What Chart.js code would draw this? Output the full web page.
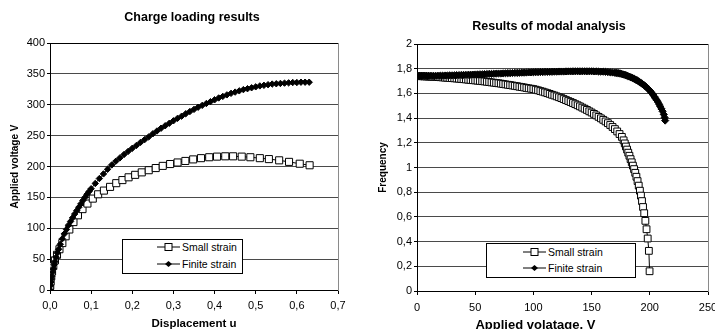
<!DOCTYPE html>
<html>
<head>
<meta charset="utf-8">
<script src="https://cdn.jsdelivr.net/npm/chart.js@4.4.1/dist/chart.umd.min.js"></script>
<style>
  html, body { margin: 0; padding: 0; background: #fff; width: 715px; height: 329px; overflow: hidden; }
  canvas { position: absolute; top: 0; }
  #loading { left: 0; }
  #modal { left: 357px; }
  .legend { position: absolute; border: 1px solid #000; background: #fff; font-family: 'Liberation Sans', Arial, sans-serif; font-size: 10.5px; color: #000; }
  .legend .row { position: absolute; display: flex; align-items: center; height: 14px; white-space: nowrap; }
  .legend svg { display: block; margin-right: 2px; }
</style>
</head>
<body>
<canvas id="loading" width="384" height="345"></canvas>
<canvas id="modal" width="384" height="345"></canvas>
<div class="legend" id="legLoading" style="left:122px;top:239px;width:119px;height:33px"></div>
<div class="legend" id="legModal" style="left:486px;top:243px;width:148px;height:33px"></div>
<script>
// --- Charge loading results (displacement u -> applied voltage V)
const smallU = [0, 0.0005, 0.0015, 0.003, 0.005, 0.008, 0.012, 0.017, 0.023, 0.03,
  0.038, 0.047, 0.057, 0.068, 0.079, 0.091, 0.104, 0.117, 0.131, 0.146,
  0.161, 0.176, 0.191, 0.207, 0.223, 0.24, 0.257, 0.274, 0.292, 0.31,
  0.329, 0.348, 0.367, 0.387, 0.406, 0.426, 0.445, 0.466, 0.487, 0.51,
  0.532, 0.557, 0.581, 0.607, 0.631];
const smallV = [0, 7, 14, 22, 30, 39, 48, 57, 66, 76,
  87, 98, 110, 121, 131, 140, 148, 155, 161, 167,
  173, 178, 182.5, 186.5, 190.5, 194, 197.5, 201, 204, 206.5,
  209, 211.5, 213.5, 215, 216, 216.5, 216.5, 216, 215, 213.5,
  212, 210, 207.5, 204.5, 202];

const finiteU = [0, 0.001, 0.002, 0.003, 0.004, 0.006, 0.008, 0.01, 0.012, 0.015,
  0.018, 0.021, 0.025, 0.03, 0.035, 0.04, 0.045, 0.05, 0.055, 0.06,
  0.065, 0.07, 0.075, 0.08, 0.085, 0.09, 0.095, 0.1, 0.11, 0.12,
  0.13, 0.14, 0.15, 0.16, 0.17, 0.18, 0.19, 0.2, 0.21, 0.22,
  0.23, 0.24, 0.25, 0.26, 0.27, 0.28, 0.29, 0.3, 0.31, 0.32,
  0.33, 0.34, 0.35, 0.36, 0.37, 0.38, 0.39, 0.4, 0.41, 0.42,
  0.43, 0.44, 0.45, 0.46, 0.47, 0.48, 0.49, 0.5, 0.51, 0.52,
  0.53, 0.54, 0.55, 0.56, 0.57, 0.58, 0.59, 0.6, 0.61, 0.62, 0.63];
const finiteV = [0, 7, 13, 18, 22, 29, 35, 41, 46, 53,
  60, 66, 74, 83, 91, 98, 105, 111, 117, 123,
  128.5, 134, 139.5, 145, 150, 155, 159.5, 164, 172.5, 180.5,
  188, 195.5, 202.5, 208.5, 214, 219.5, 224.5, 229.5, 234, 239,
  243.5, 248, 253, 257.5, 262, 266, 270, 274, 278, 281.5,
  285.5, 289, 292.5, 296, 299, 302, 305, 308, 311, 313.5,
  316, 318.5, 320.5, 322.5, 324.5, 326, 327.5, 329, 330.5, 331.5,
  332.5, 333.5, 334, 334.5, 335, 335.5, 336, 336, 336.5, 336.5, 336.5];

const uTicks = ['0,0', '0,1', '0,2', '0,3', '0,4', '0,5', '0,6', '0,7'];
const vTicks = ['0', '50', '100', '150', '200', '250', '300', '350', '400'];

// --- Results of modal analysis (applied voltage -> frequency)
const modalSmallV = [0, 2, 4, 6, 8, 10, 12, 14, 16, 18,
  20, 22, 24, 26, 28, 30, 32, 34, 36, 38,
  40, 42, 44, 46, 48, 50, 52, 54, 56, 58,
  60, 62, 64, 66, 68, 70, 72, 74, 76, 78,
  80, 82, 84, 86, 88, 90, 92, 94, 96, 98,
  100, 102, 104, 106, 108, 110, 112, 114, 116, 118,
  120, 122, 124, 126, 128, 130, 132, 134, 136, 138,
  140, 142, 144, 146, 148, 150, 152, 154, 156, 158,
  160, 162, 164, 166, 168, 170, 172, 174, 176,
  177.5, 178.5, 179.5, 180.5, 181.5, 182.5, 183.5, 184.5, 185.5, 186.5,
  187.5, 188.5, 189.5, 190.5, 191.5, 192.4, 193.3, 194.2, 195.2, 196.2,
  197.2, 198.2, 199.2, 199.8];
const modalSmallF = [1.740, 1.7395, 1.739, 1.738, 1.737, 1.736, 1.735, 1.734, 1.733, 1.732,
  1.731, 1.7295, 1.728, 1.7265, 1.725, 1.7235, 1.722, 1.7205, 1.719, 1.717,
  1.715, 1.713, 1.711, 1.709, 1.707, 1.705, 1.703, 1.701, 1.699, 1.697,
  1.694, 1.692, 1.689, 1.687, 1.684, 1.682, 1.679, 1.676, 1.673, 1.670,
  1.667, 1.664, 1.661, 1.658, 1.654, 1.651, 1.648, 1.644, 1.641, 1.638,
  1.635, 1.630, 1.625, 1.619, 1.614, 1.608, 1.602, 1.596, 1.589, 1.583,
  1.576, 1.569, 1.562, 1.554, 1.546, 1.538, 1.530, 1.522, 1.513, 1.504,
  1.495, 1.485, 1.476, 1.466, 1.455, 1.445, 1.434, 1.422, 1.410, 1.398,
  1.386, 1.373, 1.359, 1.344, 1.328, 1.311, 1.292, 1.271, 1.248,
  1.22, 1.195, 1.17, 1.145, 1.12, 1.095, 1.068, 1.042, 1.015, 0.987,
  0.957, 0.925, 0.89, 0.853, 0.812, 0.772, 0.728, 0.68, 0.63, 0.568,
  0.5, 0.425, 0.325, 0.16];

const modalFiniteV = [0, 2, 4, 6, 8, 10, 12, 14, 16, 18,
  20, 22, 24, 26, 28, 30, 32, 34, 36, 38,
  40, 42, 44, 46, 48, 50, 52, 54, 56, 58,
  60, 62, 64, 66, 68, 70, 72, 74, 76, 78,
  80, 82, 84, 86, 88, 90, 92, 94, 96, 98,
  100, 102, 104, 106, 108, 110, 112, 114, 116, 118,
  120, 122, 124, 126, 128, 130, 132, 134, 136, 138,
  140, 142, 144, 146, 148, 150, 152, 154, 156, 158,
  160, 162, 164, 166, 168, 170,
  171, 172, 173, 174, 175, 176, 177, 178, 179, 180,
  181, 182, 183, 184, 185, 186, 187, 188, 189, 190,
  191, 192, 193, 194, 195, 196, 197, 198, 199, 200,
  201, 202, 203, 204, 205, 206, 207, 208, 209, 210,
  211, 212, 212.7, 213.2];
const modalFiniteF = [1.740, 1.740, 1.740, 1.741, 1.741, 1.741, 1.742, 1.742, 1.743, 1.743,
  1.744, 1.744, 1.745, 1.745, 1.746, 1.746, 1.747, 1.748, 1.748, 1.749,
  1.750, 1.750, 1.751, 1.752, 1.752, 1.753, 1.754, 1.755, 1.755, 1.756,
  1.757, 1.758, 1.758, 1.759, 1.760, 1.761, 1.761, 1.762, 1.763, 1.764,
  1.764, 1.765, 1.766, 1.766, 1.767, 1.768, 1.768, 1.769, 1.770, 1.770,
  1.771, 1.772, 1.772, 1.773, 1.773, 1.774, 1.774, 1.775, 1.775, 1.776,
  1.776, 1.777, 1.777, 1.777, 1.778, 1.778, 1.778, 1.779, 1.779, 1.779,
  1.779, 1.779, 1.779, 1.779, 1.779, 1.779, 1.778, 1.778, 1.777, 1.776,
  1.776, 1.775, 1.773, 1.771, 1.769, 1.767,
  1.766, 1.765, 1.764, 1.762, 1.760, 1.757, 1.754, 1.751, 1.748, 1.745,
  1.741, 1.737, 1.733, 1.729, 1.725, 1.721, 1.716, 1.711, 1.706, 1.700,
  1.694, 1.688, 1.681, 1.674, 1.667, 1.659, 1.651, 1.642, 1.633, 1.623,
  1.612, 1.600, 1.587, 1.573, 1.558, 1.545, 1.530, 1.512, 1.494, 1.475,
  1.455, 1.430, 1.405, 1.38];

const voltTicks = ['0', '50', '100', '150', '200', '250'];
const freqTicks = ['0', '0,2', '0,4', '0,6', '0,8', '1', '1,2', '1,4', '1,6', '1,8', '2'];

Chart.defaults.font.family = "'Liberation Sans', Arial, sans-serif";
Chart.defaults.color = '#000';

function pts(xs, ys) {
  return xs.map((x, i) => ({ x: x, y: ys[i] }));
}

function smallSet(data, r) {
  return {
    label: 'Small strain', data: data, showLine: true, order: 1,
    borderColor: '#000', borderWidth: 1,
    pointStyle: 'rect', pointRadius: r, pointBackgroundColor: '#fff',
    pointBorderColor: '#000', pointBorderWidth: 1
  };
}
function finiteSet(data, r) {
  return {
    label: 'Finite strain', data: data, showLine: true, order: 0,
    borderColor: '#000', borderWidth: 1,
    pointStyle: 'rectRot', pointRadius: r, pointBackgroundColor: '#000',
    pointBorderColor: '#000', pointBorderWidth: 1
  };
}

// builds one chart; widths/heights fix the plot-area edges inside the canvas
function makeChart(id, cfg) {
  return new Chart(document.getElementById(id), {
    type: 'scatter',
    data: { datasets: cfg.datasets },
    options: {
      responsive: false, animation: false, devicePixelRatio: 1,
      layout: { padding: 0 },
      plugins: {
        legend: { display: false },
        tooltip: { enabled: false },
        title: {
          display: true, text: cfg.title, color: '#000',
          font: { size: 12.5, weight: 'bold' },
          padding: { top: cfg.titleTop, bottom: cfg.titleBottom }
        }
      },
      scales: {
        x: {
          type: 'linear', min: cfg.xMin, max: cfg.xMax,
          ticks: { stepSize: cfg.xStep, padding: cfg.xTickPad, font: { size: 11 }, maxRotation: 0,
            callback: v => cfg.xLabels[Math.round((v - cfg.xMin) / cfg.xStep)] },
          grid: { drawOnChartArea: false, tickColor: '#000', tickLength: 4 },
          border: { color: '#000' },
          title: { display: true, text: cfg.xTitle, font: { size: cfg.xTitleSize, weight: 'bold' },
            padding: { top: 0, bottom: cfg.xTitlePad } },
          afterFit: s => { s.height = cfg.xHeight; }
        },
        y: {
          type: 'linear', min: cfg.yMin, max: cfg.yMax,
          ticks: { stepSize: cfg.yStep, padding: 2, font: { size: 11 },
            callback: v => cfg.yLabels[Math.round((v - cfg.yMin) / cfg.yStep)] },
          grid: {
            color: c => (c.tick && Math.abs(c.tick.value - cfg.yMax) < 1e-9) ? '#000' : '#4a4a4a',
            tickColor: '#000', tickLength: 3
          },
          border: { color: '#000' },
          title: { display: true, text: cfg.yTitle, font: { size: 10, weight: 'bold' },
            padding: { top: cfg.yTitlePad, bottom: 0 } },
          afterFit: s => { s.width = cfg.yWidth; }
        },
        frame: {
          type: 'linear', axis: 'y', position: 'right', min: 0, max: 1,
          ticks: { display: false }, grid: { display: false },
          border: { color: '#8a8a8a' },
          afterFit: s => { s.width = cfg.rightWidth; }
        }
      }
    }
  });
}

const loading = makeChart('loading', {
  datasets: [smallSet(pts(smallU, smallV), 5), finiteSet(pts(finiteU, finiteV), 3.2)],
  title: 'Charge loading results', titleTop: 10.5, titleBottom: 17.5,
  xMin: 0, xMax: 0.7, xStep: 0.1, xLabels: uTicks, xTickPad: 5.5,
  xTitle: 'Displacement u', xTitleSize: 11.5, xTitlePad: 14,
  xHeight: 55,
  yMin: 0, yMax: 400, yStep: 50, yLabels: vTicks,
  yTitle: 'Applied voltage V', yTitlePad: 9, yWidth: 50,
  rightWidth: 46
});

// trailing spaces pull the centred axis title left, where the original sits
const modal = makeChart('modal', {
  datasets: [smallSet(pts(modalSmallV, modalSmallF), 4.8), finiteSet(pts(modalFiniteV, modalFiniteF), 3.6)],
  title: 'Results of modal analysis', titleTop: 19.5, titleBottom: 9.5,
  xMin: 0, xMax: 250, xStep: 50, xLabels: voltTicks, xTickPad: 6,
  xTitle: 'Applied volatage, V' + ' '.repeat(15), xTitleSize: 13, xTitlePad: 12.2,
  xHeight: 54,
  yMin: 0, yMax: 2, yStep: 0.2, yLabels: freqTicks,
  yTitle: 'Frequency', yTitlePad: 20, yWidth: 60,
  rightWidth: 33
});

// legend boxes drawn in html, labels taken from the datasets
function marker(style) {
  const shape = style === 'rect'
    ? '<rect x="8" y="3.5" width="7" height="7" fill="#fff" stroke="#000" stroke-width="1"/>'
    : '<polygon points="11.5,4 15,7 11.5,10 8,7" fill="#000"/>';
  return '<svg width="23" height="14"><line x1="0" y1="7" x2="23" y2="7" stroke="#000" stroke-width="1"/>' + shape + '</svg>';
}

function buildLegend(elId, chart, left, tops) {
  const el = document.getElementById(elId);
  chart.data.datasets.forEach((ds, i) => {
    const row = document.createElement('div');
    row.className = 'row';
    row.style.left = left + 'px';
    row.style.top = tops[i] + 'px';
    row.innerHTML = marker(ds.pointStyle) + '<span>' + ds.label + '</span>';
    el.appendChild(row);
  });
}

buildLegend('legLoading', loading, 34, [0, 17]);
buildLegend('legModal', modal, 36, [0.7, 17.3]);
</script>
</body>
</html>
